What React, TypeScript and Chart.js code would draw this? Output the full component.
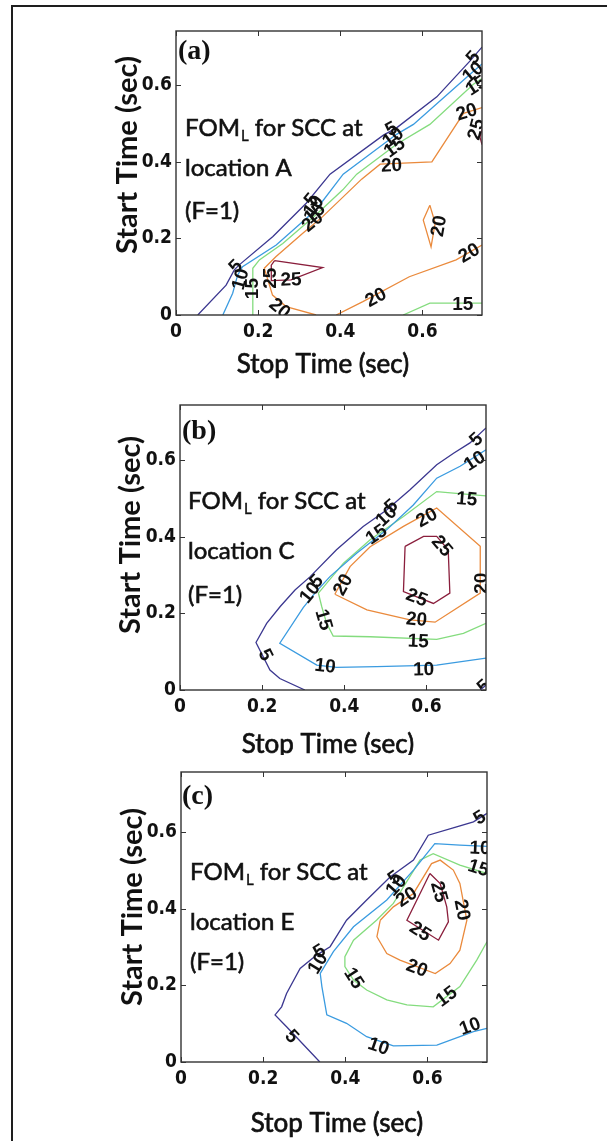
import React, { useEffect, useRef } from 'react';
import { Chart, registerables } from 'chart.js';
Chart.register(...registerables);

type Pt = [number, number];
type Line = Pt[];

const X_TICKS = [0, 0.2, 0.4, 0.6];
const Y_TICKS = [0, 0.2, 0.4, 0.6];
const LEVELS = [5, 10, 15, 20, 25];
const LEVEL_COLORS = ['#3b3790', '#3a9be0', '#84dc7e', '#ea8a3c', '#8a1e3c'];

// ---------- Panel (a): location A ----------
const A_5: Line[] = [[[0.053, 0], [0.122, 0.078], [0.142, 0.118], [0.154, 0.131], [0.236, 0.205], [0.317, 0.292], [0.375, 0.368], [0.505, 0.47], [0.537, 0.489], [0.635, 0.57], [0.716, 0.664], [0.745, 0.7]]];
const A_10: Line[] = [[[0.114, 0], [0.138, 0.057], [0.15, 0.104], [0.162, 0.126], [0.244, 0.183], [0.341, 0.275], [0.407, 0.368], [0.537, 0.472], [0.578, 0.498], [0.716, 0.629], [0.745, 0.656]]];
const A_15: Line[] = [
  [[0.187, 0], [0.187, 0.122], [0.203, 0.144], [0.26, 0.187], [0.341, 0.262], [0.406, 0.327], [0.44, 0.368], [0.537, 0.446], [0.618, 0.498], [0.724, 0.603], [0.745, 0.618]],
  [[0.553, 0], [0.618, 0.031], [0.745, 0.031]],
];
const A_20: Line[] = [
  [[0.341, 0], [0.268, 0.022], [0.235, 0.052], [0.215, 0.122], [0.243, 0.152], [0.308, 0.213], [0.357, 0.257], [0.452, 0.355], [0.497, 0.394], [0.623, 0.4], [0.7, 0.527], [0.745, 0.542]],
  [[0.39, 0], [0.455, 0.035], [0.568, 0.1], [0.682, 0.144], [0.745, 0.183]],
  [[0.618, 0.287], [0.602, 0.248], [0.621, 0.178], [0.631, 0.24], [0.618, 0.287]],
];
const A_25: Line[] = [
  [[0.24, 0.142], [0.357, 0.124], [0.28, 0.092], [0.232, 0.09], [0.232, 0.13], [0.24, 0.142]],
  [[0.745, 0.485], [0.74, 0.465], [0.745, 0.445]],
];
const A_LABELS: [number, number, number][] = [
  [5, 0.146, 0.126], [10, 0.158, 0.093], [15, 0.188, 0.069], [20, 0.252, 0.016], [25, 0.231, 0.096], [25, 0.28, 0.091],
  [5, 0.33, 0.3], [10, 0.336, 0.283], [15, 0.338, 0.265], [20, 0.333, 0.243],
  [20, 0.641, 0.232], [20, 0.487, 0.045], [20, 0.714, 0.161], [15, 0.698, 0.028],
  [5, 0.525, 0.485], [10, 0.529, 0.463], [15, 0.533, 0.437], [20, 0.525, 0.389],
  [5, 0.724, 0.672], [10, 0.724, 0.633], [15, 0.732, 0.598], [20, 0.708, 0.529], [25, 0.732, 0.485],
];

// ---------- Panel (b): location C ----------
const B_5: Line[] = [
  [[0.304, 0], [0.243, 0.03], [0.219, 0.052], [0.185, 0.124], [0.211, 0.174], [0.244, 0.218], [0.28, 0.261], [0.317, 0.296], [0.381, 0.366], [0.446, 0.427], [0.503, 0.47], [0.56, 0.523], [0.625, 0.588], [0.666, 0.618], [0.706, 0.645], [0.745, 0.684]],
  [[0.731, 0], [0.745, 0.013]],
];
const B_10: Line[] = [[[0.745, 0.083], [0.625, 0.065], [0.479, 0.061], [0.381, 0.059], [0.333, 0.065], [0.243, 0.122], [0.3, 0.215], [0.33, 0.255], [0.365, 0.296], [0.43, 0.357], [0.503, 0.418], [0.568, 0.483], [0.625, 0.553], [0.682, 0.584], [0.745, 0.627]]];
const B_15: Line[] = [[[0.745, 0.174], [0.69, 0.148], [0.625, 0.132], [0.463, 0.139], [0.373, 0.141], [0.357, 0.174], [0.345, 0.218], [0.337, 0.253], [0.398, 0.331], [0.463, 0.392], [0.544, 0.453], [0.625, 0.518], [0.666, 0.514], [0.745, 0.507]]];
const B_20: Line[] = [[[0.377, 0.25], [0.455, 0.209], [0.56, 0.183], [0.621, 0.177], [0.731, 0.253], [0.731, 0.375], [0.625, 0.475], [0.544, 0.427], [0.463, 0.374], [0.414, 0.322], [0.377, 0.25]]];
const B_25: Line[] = [[[0.548, 0.375], [0.544, 0.257], [0.617, 0.226], [0.657, 0.253], [0.653, 0.366], [0.625, 0.401], [0.593, 0.401], [0.548, 0.375]]];
const B_LABELS: [number, number, number][] = [
  [5, 0.515, 0.479], [10, 0.503, 0.453], [15, 0.479, 0.405], [20, 0.601, 0.449], [25, 0.637, 0.375],
  [20, 0.735, 0.279], [25, 0.576, 0.24], [20, 0.576, 0.183], [15, 0.58, 0.126], [10, 0.593, 0.052],
  [10, 0.353, 0.061], [5, 0.207, 0.091], [15, 0.349, 0.183], [20, 0.398, 0.274], [10, 0.317, 0.253],
  [5, 0.333, 0.283], [5, 0.722, 0.653], [10, 0.718, 0.597], [15, 0.698, 0.497], [5, 0.74, 0.008],
];

// ---------- Panel (c): location E ----------
const C_5: Line[] = [[[0.338, 0], [0.257, 0.092], [0.229, 0.123], [0.245, 0.144], [0.257, 0.179], [0.29, 0.244], [0.33, 0.279], [0.363, 0.301], [0.403, 0.37], [0.452, 0.423], [0.509, 0.483], [0.566, 0.527], [0.602, 0.592], [0.671, 0.614], [0.712, 0.627], [0.745, 0.649]]];
const C_10: Line[] = [[[0.745, 0.088], [0.712, 0.079], [0.623, 0.044], [0.517, 0.042], [0.452, 0.066], [0.403, 0.101], [0.355, 0.123], [0.343, 0.197], [0.339, 0.231], [0.371, 0.288], [0.42, 0.353], [0.501, 0.423], [0.566, 0.501], [0.618, 0.57], [0.679, 0.566], [0.745, 0.563]]];
const C_15: Line[] = [[[0.745, 0.314], [0.72, 0.266], [0.679, 0.197], [0.614, 0.144], [0.55, 0.149], [0.501, 0.162], [0.452, 0.188], [0.42, 0.214], [0.399, 0.249], [0.399, 0.275], [0.42, 0.318], [0.476, 0.37], [0.517, 0.414], [0.582, 0.527], [0.614, 0.544], [0.679, 0.514], [0.745, 0.492]]];
const C_20: Line[] = [[[0.485, 0.37], [0.477, 0.327], [0.501, 0.283], [0.533, 0.266], [0.619, 0.231], [0.655, 0.257], [0.679, 0.292], [0.696, 0.37], [0.679, 0.466], [0.663, 0.501], [0.631, 0.527], [0.61, 0.518], [0.566, 0.44], [0.517, 0.405], [0.485, 0.37]]];
const C_25: Line[] = [[[0.606, 0.492], [0.55, 0.37], [0.627, 0.318], [0.651, 0.366], [0.647, 0.405], [0.631, 0.466], [0.606, 0.492]]];
const C_LABELS: [number, number, number][] = [
  [5, 0.728, 0.637], [10, 0.728, 0.557], [15, 0.724, 0.505], [20, 0.683, 0.397], [25, 0.627, 0.444],
  [25, 0.582, 0.34], [20, 0.574, 0.244], [15, 0.647, 0.17], [10, 0.704, 0.092], [10, 0.481, 0.04],
  [5, 0.269, 0.066], [15, 0.42, 0.218], [10, 0.334, 0.257], [5, 0.338, 0.288],
  [5, 0.52, 0.48], [10, 0.525, 0.46], [20, 0.55, 0.43],
];

const X_MAX = 0.745;
const Y_MAX_A = 0.742;
const Y_MAX_B = 0.744;
const Y_MAX_C = 0.757;

interface PanelCfg {
  letter: string;
  location: string;
  levels: Line[][];
  labels: [number, number, number][];
  yMax: number;
  top: number; h: number;
  area: { left: number; right: number; top: number; bottom: number };
  letterPos: [number, number];
  textLeft: number; textY: [number, number, number];
  yTitle: [number, number];
  xTitle: [number, number];
}

const PANELS: PanelCfg[] = [
  {
    letter: '(a)', location: 'location A', levels: [A_5, A_10, A_15, A_20, A_25], labels: A_LABELS, yMax: Y_MAX_A,
    top: 0, h: 385, area: { left: 176, right: 482, top: 31, bottom: 315 },
    letterPos: [178, 52], textLeft: 185, textY: [128, 168, 211], yTitle: [128, 155], xTitle: [323, 365],
  },
  {
    letter: '(b)', location: 'location C', levels: [B_5, B_10, B_15, B_20, B_25], labels: B_LABELS, yMax: Y_MAX_B,
    top: 385, h: 370, area: { left: 180, right: 486, top: 20, bottom: 305 },
    letterPos: [182, 47], textLeft: 188, textY: [116, 166, 210], yTitle: [131, 150], xTitle: [328, 360],
  },
  {
    letter: '(c)', location: 'location E', levels: [C_5, C_10, C_15, C_20, C_25], labels: C_LABELS, yMax: Y_MAX_C,
    top: 755, h: 386, area: { left: 181, right: 487, top: 17, bottom: 307 },
    letterPos: [182, 42], textLeft: 190, textY: [117, 167, 207], yTitle: [133, 152], xTitle: [337, 369],
  },
];

const TICK_FONT = { family: "'DejaVu Sans Condensed', 'Liberation Sans Narrow', 'Liberation Sans', sans-serif", size: 19, weight: 'bold' as const };
const TEXT_FONT = "Lato, 'Open Sans', sans-serif";

function segDist(px: number, py: number, ax: number, ay: number, bx: number, by: number) {
  const dx = bx - ax, dy = by - ay;
  const L = dx * dx + dy * dy || 1;
  let t = ((px - ax) * dx + (py - ay) * dy) / L;
  t = Math.max(0, Math.min(1, t));
  const qx = ax + t * dx, qy = ay + t * dy;
  return Math.hypot(px - qx, py - qy);
}

function heavyText(ctx: CanvasRenderingContext2D, s: string, x: number, y: number, w: number) {
  ctx.fillText(s, x, y);
  if (w > 0) {
    ctx.lineWidth = w;
    ctx.strokeStyle = ctx.fillStyle as string;
    ctx.strokeText(s, x, y);
  }
}

function makeOverlay(p: PanelCfg) {
  return {
    id: 'overlay',
    afterDatasetsDraw(chart: any) {
      const { ctx, chartArea: ca, scales } = chart;
      const xs = scales.x, ys = scales.y;
      ctx.save();
      ctx.beginPath();
      ctx.rect(ca.left, ca.top, ca.right - ca.left, ca.bottom - ca.top);
      ctx.clip();
      ctx.font = "bold 19px 'Liberation Sans', Arial, sans-serif";
      ctx.fillStyle = '#111';
      ctx.textAlign = 'center';
      ctx.textBaseline = 'middle';
      for (const [lev, vx, vy] of p.labels) {
        const px = xs.getPixelForValue(vx), py = ys.getPixelForValue(vy);
        const lines = p.levels[LEVELS.indexOf(lev)];
        let best = Infinity, ang = 0;
        for (const line of lines) {
          for (let i = 0; i < line.length - 1; i++) {
            const ax = xs.getPixelForValue(line[i][0]), ay = ys.getPixelForValue(line[i][1]);
            const bx = xs.getPixelForValue(line[i + 1][0]), by = ys.getPixelForValue(line[i + 1][1]);
            const d = segDist(px, py, ax, ay, bx, by);
            if (d < best) { best = d; ang = Math.atan2(by - ay, bx - ax); }
          }
        }
        if (ang >= Math.PI / 2) ang -= Math.PI;
        if (ang < -Math.PI / 2) ang += Math.PI;
        ctx.save();
        ctx.translate(px, py);
        ctx.rotate(ang);
        ctx.fillText(String(lev), 0, 0);
        ctx.restore();
      }
      ctx.restore();
    },
    afterDraw(chart: any) {
      const { ctx, chartArea: ca, scales } = chart;
      const xs = scales.x, ys = scales.y;
      ctx.save();
      // box and inward ticks
      ctx.strokeStyle = '#333';
      ctx.lineWidth = 1.4;
      ctx.strokeRect(ca.left, ca.top, ca.right - ca.left, ca.bottom - ca.top);
      ctx.lineWidth = 1;
      ctx.beginPath();
      for (const v of X_TICKS) {
        const x = Math.round(xs.getPixelForValue(v)) + 0.5;
        ctx.moveTo(x, ca.bottom); ctx.lineTo(x, ca.bottom - 5);
        ctx.moveTo(x, ca.top); ctx.lineTo(x, ca.top + 5);
      }
      for (const v of Y_TICKS) {
        const y = Math.round(ys.getPixelForValue(v)) + 0.5;
        ctx.moveTo(ca.left, y); ctx.lineTo(ca.left + 5, y);
        ctx.moveTo(ca.right, y); ctx.lineTo(ca.right - 5, y);
      }
      ctx.stroke();

      ctx.fillStyle = '#111';
      // panel letter
      ctx.font = "bold 28px 'Liberation Serif', 'Times New Roman', serif";
      ctx.textAlign = 'left';
      ctx.textBaseline = 'middle';
      ctx.fillText(p.letter, p.letterPos[0], p.letterPos[1]);

      // annotation
      const big = `24px ${TEXT_FONT}`;
      ctx.font = big;
      let x = p.textLeft;
      heavyText(ctx, 'FOM', x, p.textY[0], 0.6);
      x += ctx.measureText('FOM').width;
      ctx.font = `15px ${TEXT_FONT}`;
      heavyText(ctx, 'L', x + 1, p.textY[0] + 8, 0.4);
      x += ctx.measureText('L').width + 1;
      ctx.font = big;
      heavyText(ctx, ' for SCC at', x, p.textY[0], 0.6);
      heavyText(ctx, p.location, p.textLeft, p.textY[1], 0.6);
      heavyText(ctx, '(F=1)', p.textLeft, p.textY[2], 0.6);

      // axis titles
      ctx.textAlign = 'center';
      ctx.font = `bold 29px ${TEXT_FONT}`;
      ctx.save();
      ctx.translate(p.yTitle[0], p.yTitle[1]);
      ctx.rotate(-Math.PI / 2);
      ctx.fillText('Start Time (sec)', 0, 0);
      ctx.restore();
      ctx.font = `26px ${TEXT_FONT}`;
      heavyText(ctx, 'Stop Time (sec)', p.xTitle[0], p.xTitle[1], 0.7);
      ctx.restore();
    },
  };
}

function Panel({ p }: { p: PanelCfg }) {
  const ref = useRef<HTMLCanvasElement>(null);
  useEffect(() => {
    const datasets: any[] = [];
    p.levels.forEach((lines, li) => {
      lines.forEach((line) => {
        datasets.push({
          label: String(LEVELS[li]),
          data: line.map(([x, y]) => ({ x, y })),
          showLine: true,
          borderColor: LEVEL_COLORS[li],
          backgroundColor: LEVEL_COLORS[li],
          borderWidth: 1.3,
          pointRadius: 0,
          fill: false,
          tension: 0,
        });
      });
    });
    const fmt = (v: number) => (v === 0 ? '0' : v.toFixed(1));
    const chart = new Chart(ref.current as HTMLCanvasElement, {
      type: 'scatter',
      data: { datasets },
      options: {
        animation: false,
        responsive: false,
        maintainAspectRatio: false,
        layout: { padding: { top: p.area.top, right: 607 - p.area.right, left: 0, bottom: 0 } },
        plugins: { legend: { display: false }, tooltip: { enabled: false } },
        events: [],
        scales: {
          x: {
            type: 'linear', min: 0, max: X_MAX,
            afterBuildTicks: (s: any) => { s.ticks = X_TICKS.map((v) => ({ value: v })); },
            afterFit: (s: any) => { s.height = p.h - p.area.bottom; },
            grid: { display: false, drawTicks: false },
            border: { display: false },
            ticks: { font: TICK_FONT, color: '#111', padding: 6, maxRotation: 0, autoSkip: false, callback: (v: any) => fmt(Number(v)) },
          },
          y: {
            type: 'linear', min: 0, max: p.yMax,
            afterBuildTicks: (s: any) => { s.ticks = Y_TICKS.map((v) => ({ value: v })); },
            afterFit: (s: any) => { s.width = p.area.left; },
            grid: { display: false, drawTicks: false },
            border: { display: false },
            ticks: { font: TICK_FONT, color: '#111', padding: 4, autoSkip: false, callback: (v: any) => fmt(Number(v)) },
          },
        },
      },
      plugins: [makeOverlay(p)],
    } as any);
    return () => chart.destroy();
  }, [p]);
  return (
    <canvas
      ref={ref}
      width={607}
      height={p.h}
      style={{ position: 'absolute', left: 0, top: p.top, width: 607, height: p.h, display: 'block' }}
    />
  );
}

export default function App() {
  return (
    <div>
      <div
        style={{
          position: 'absolute', left: 11, top: 5, width: 596, height: 1136,
          borderLeft: '2px solid #1e1e1e', borderTop: '2px solid #1e1e1e', boxSizing: 'border-box',
        }}
      />
      {PANELS.map((p) => (
        <Panel key={p.letter} p={p} />
      ))}
    </div>
  );
}
